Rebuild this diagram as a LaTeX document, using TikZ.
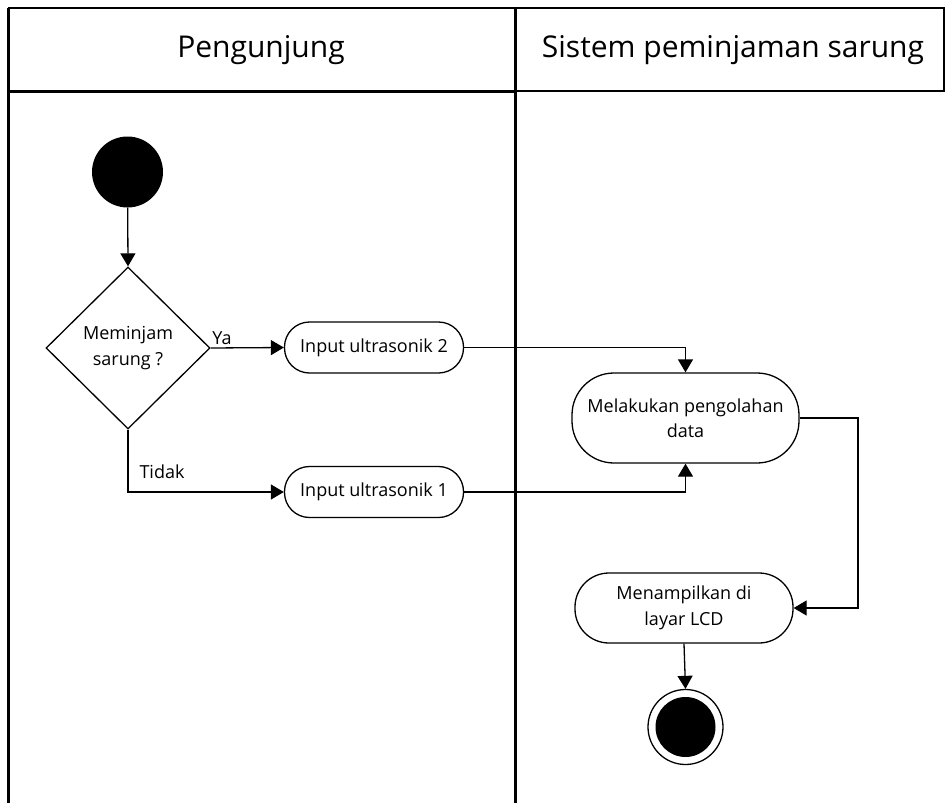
\documentclass[tikz,border=0pt]{standalone}
\usepackage{fontspec}
\setmainfont{Open Sans}
\usetikzlibrary{arrows.meta,shapes.geometric}

\tikzset{
  flow/.style={line width=1.3pt,-{Triangle[length=13pt,width=15pt]}},
  action/.style={draw,line width=1.3pt,align=center,inner sep=0pt,
    font=\fontsize{18}{25.5}\selectfont},
  decision/.style={draw,diamond,line width=1.3pt,inner sep=0pt,align=center,
    font=\fontsize{18}{26}\selectfont},
  lane/.style={line width=3pt},
  lanetitle/.style={font=\fontsize{30}{36}\selectfont},
  guard/.style={font=\fontsize{18}{23}\selectfont},
}

\begin{document}
\begin{tikzpicture}[x=1pt,y=-1pt]
  \useasboundingbox (0,0) rectangle (945,803);

  % swimlane frame
  \draw[line width=1.5pt] (8,8) -- (944,8) -- (944,91) -- (515,91);
  \draw[lane] (8,91) -- (515,91);
  \draw[lane] (8,8) -- (8,803);
  \draw[lane] (515,8) -- (515,803);
  \node[lanetitle] (laneA) at (261,50) {Pengunjung};
  \node[lanetitle] (laneB) at (733,50) {Sistem peminjaman sarung};

  % activity nodes
  \node[circle,fill=black,minimum size=71pt,inner sep=0pt] (start) at (127.5,172) {};
  \node[decision,minimum width=164pt,minimum height=162pt] (ask) at (128,348)
    {Meminjam\\sarung ?};
  \node[action,minimum width=179pt,minimum height=51pt,rounded corners=25pt] (in2)
    at (374,347.5) {Input ultrasonik 2};
  \node[action,minimum width=179pt,minimum height=51pt,rounded corners=25pt] (in1)
    at (374,492) {Input ultrasonik 1};
  \node[action,minimum width=227pt,minimum height=90pt,rounded corners=42pt] (proc)
    at (685.5,418) {Melakukan pengolahan\\data};
  \node[action,minimum width=218pt,minimum height=70pt,rounded corners=34pt] (show)
    at (684,608) {Menampilkan di\\layar LCD};
  \node[circle,draw,line width=1.3pt,minimum size=75pt,inner sep=0pt] (end) at (685.5,727) {};
  \node[circle,fill=black,minimum size=60pt,inner sep=0pt] (endin) at (685.5,727) {};

  % guard labels
  \node[guard] (ya) at (222,338) {Ya};
  \node[guard] (tidak) at (162,472) {Tidak};

  % connectors
  \draw[flow] (start) -- (ask.north);
  \draw[flow] (ask.east) -- (in2.west);
  \draw[flow] (ask.south) |- (in1.west);
  \draw[flow] (in2.east) -| (proc.north);
  \draw[flow] (in1.east) -| (proc.south);
  \coordinate (bend) at (858,418);
  \draw[flow] (proc.east) -- (bend) |- (show.east);
  \draw[flow] (show.south) -- (end.north);
\end{tikzpicture}
\end{document}
